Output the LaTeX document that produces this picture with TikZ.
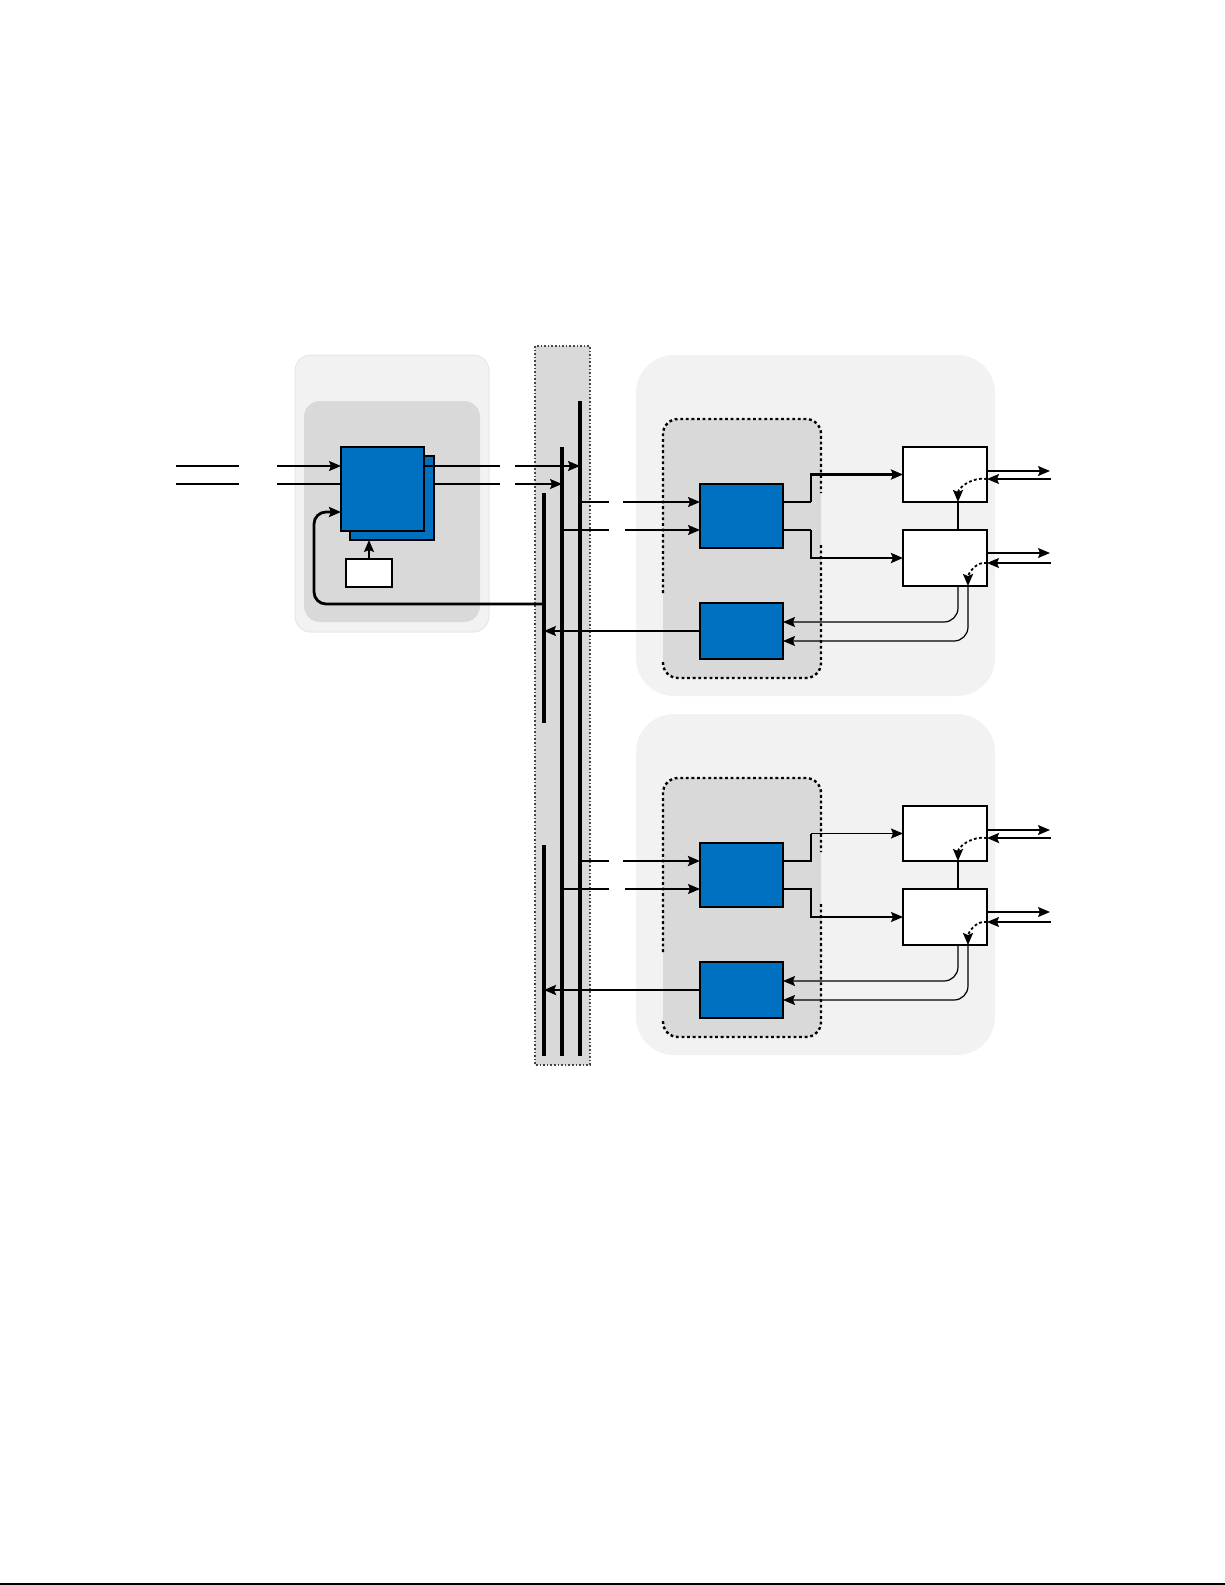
\documentclass[tikz,border=0pt]{standalone}
\usetikzlibrary{fit,arrows.meta}
\definecolor{blu}{HTML}{0070C0}
\definecolor{lg}{HTML}{F2F2F2}
\definecolor{mg}{HTML}{D9D9D9}
\definecolor{edgeb}{HTML}{E2E6F2}
\tikzset{
 blk/.style={draw=black, fill=blu, line width=0.6pt, inner sep=0pt, outer sep=0pt},
 wbox/.style={draw=black, fill=white, line width=0.6pt, inner sep=0pt, outer sep=0pt},
 thin1/.style={line width=0.6pt},
 thk/.style={line width=1.4pt},
 busl/.style={line width=1.6pt},
 arr/.style={-{Stealth[length=6pt,width=5pt,inset=1pt]}},
 dots/.style={line width=1.2pt, dash pattern=on 1.4pt off 1.4pt},
 dotarr/.style={line width=0.9pt, dash pattern=on 1.4pt off 1.2pt, -{Stealth[length=6pt,width=5pt,inset=1pt]}},
}
\begin{document}
\begin{tikzpicture}[x=0.5pt,y=-0.5pt]
\useasboundingbox (0,0) rectangle (1225,1585);
\fill[white] (0,0) rectangle (1225,1585);

% ---- background areas
\filldraw[fill=lg, draw=edgeb, line width=0.5pt, rounded corners=8pt] (295,355) rectangle (489,632);
\fill[mg, rounded corners=8pt] (304,401) rectangle (480,622);
\filldraw[fill=mg, draw=gray!55!black, line width=0.8pt, densely dotted] (535,346) rectangle (590,1065);
\fill[lg, rounded corners=19pt] (636,355) rectangle (995,696);
\fill[lg, rounded corners=19pt] (636,714) rectangle (995,1055);
\fill[mg, rounded corners=7.5pt] (663,419) rectangle (821,678);
\draw[dots, rounded corners=7.5pt] (663,593) -- (663,419) -- (821,419) -- (821,493);
\draw[dots, rounded corners=7.5pt] (821,545) -- (821,678) -- (663,678) -- (663,662);
\fill[mg, rounded corners=7.5pt] (663,778) rectangle (821,1037);
\draw[dots, rounded corners=7.5pt] (663,952) -- (663,778) -- (821,778) -- (821,852);
\draw[dots, rounded corners=7.5pt] (821,904) -- (821,1037) -- (663,1037) -- (663,1021);

% ---- bus lines
\coordinate (b1t) at (544,493); \coordinate (b1m) at (544,723);
\coordinate (b1n) at (544,845); \coordinate (b1b) at (544,1056);
\coordinate (b2t) at (562,447); \coordinate (b2b) at (562,1056);
\coordinate (b3t) at (580,401); \coordinate (b3b) at (580,1056);
\draw[busl] (b1t) -- (b1m);
\draw[busl] (b1n) -- (b1b);
\draw[busl] (b2t) -- (b2b);
\draw[busl] (b3t) -- (b3b);

% ---- left group
\node[blk, fit={(350,456) (434,540)}] (Mback) {};
\node[blk, fit={(341,447) (424,531)}] (Mfront) {};
\node[wbox, fit={(346,559) (392,587)}] (Small) {};

\coordinate (i1a) at (176,466); \coordinate (i1b) at (239,466); \coordinate (i1c) at (277,466);
\draw[thin1] (i1a) -- (i1b);
\draw[thin1, arr] (i1c) -- (i1c -| Mfront.west);
\coordinate (i2a) at (176,484); \coordinate (i2b) at (239,484); \coordinate (i2c) at (277,484);
\draw[thin1] (i2a) -- (i2b);
\draw[thin1] (i2c) -- (i2c -| Mfront.west);

\coordinate (o1a) at (500,466); \coordinate (o1b) at (515,466);
\draw[thin1] (o1a -| Mfront.east) -- (o1a);
\draw[thin1, arr] (o1b) -- (o1b -| b3t);
\coordinate (o2a) at (500,484); \coordinate (o2b) at (515,484);
\draw[thin1] (o2a -| Mback.east) -- (o2a);
\draw[thin1, arr] (o2b) -- (o2b -| b2t);

\coordinate (fb) at (314,604); \coordinate (fbtop) at (314,512);
\draw[thk, arr, rounded corners=6pt] (fb -| b1t) -- (fb) -- (fbtop) -- (fbtop -| Mfront.west);
\draw[thin1, arr] (Small.north) -- (Small.north |- Mback.south);

% ---- top module
\node[blk, fit={(700,484) (783,548)}] (A1) {};
\node[blk, fit={(700,603) (783,659)}] (B1) {};
\node[wbox, fit={(903,447) (987,502)}] (W11) {};
\node[wbox, fit={(903,530) (987,586)}] (W12) {};
\coordinate (vx) at (958,0);

\coordinate (p1a) at (609,502); \coordinate (p1b) at (623,502);
\draw[thin1] (p1a -| b3t) -- (p1a);
\draw[thin1, arr] (p1b) -- (p1b -| A1.west);
\coordinate (p2a) at (609,530); \coordinate (p2b) at (625,530);
\draw[thin1] (p2a -| b2t) -- (p2a);
\draw[thin1, arr] (p2b) -- (p2b -| A1.west);

\coordinate (q1) at (811,502); \coordinate (q2) at (811,530);
\draw[thin1] (q1 -| A1.east) -- (q1);
\draw[thk, arr] (q1) |- (W11.west);
\draw[thin1] (q2 -| A1.east) -- (q2);
\draw[thk, arr] (q2) |- (W12.west);

\draw[thin1] (W12.north -| vx) -- (W11.south -| vx);
\coordinate (r1) at (958,622); \coordinate (r2) at (968,641);
\draw[thin1, arr, rounded corners=7pt] (W12.south -| r1) -- (r1) -- (r1 -| B1.east);
\draw[thin1, arr, rounded corners=7pt] (W12.south -| r2) -- (r2) -- (r2 -| B1.east);
\draw[thin1, arr] (B1.west) -- (B1.west -| b1t);

\coordinate (e1) at (1050,471); \coordinate (e2) at (1051,479);
\coordinate (e3) at (1050,553); \coordinate (e4) at (1051,563);
\draw[thin1, arr] (e1 -| W11.east) -- (e1);
\draw[thin1, arr] (e2) -- (e2 -| W11.east);
\draw[dotarr] (e2 -| W11.east) to[out=170,in=90] (W11.south -| vx);
\draw[thin1, arr] (e3 -| W12.east) -- (e3);
\draw[thin1, arr] (e4) -- (e4 -| W12.east);
\draw[dotarr] (e4 -| W12.east) to[out=170,in=90] (W12.south -| r2);

% ---- bottom module
\node[blk, fit={(700,843) (783,907)}] (A2) {};
\node[blk, fit={(700,962) (783,1018)}] (B2) {};
\node[wbox, fit={(903,806) (987,861)}] (W21) {};
\node[wbox, fit={(903,889) (987,945)}] (W22) {};

\coordinate (p3a) at (609,861); \coordinate (p3b) at (623,861);
\draw[thk] (p3a -| b3t) -- (p3a);
\draw[thk, arr] (p3b) -- (p3b -| A2.west);
\coordinate (p4a) at (609,889); \coordinate (p4b) at (625,889);
\draw[thin1] (p4a -| b2t) -- (p4a);
\draw[thin1, arr] (p4b) -- (p4b -| A2.west);

\coordinate (s1) at (811,861); \coordinate (s2) at (811,889);
\draw[thk] (s1 -| A2.east) -- (s1) -- (s1 |- W21.west);
\draw[thin1, arr] (s1 |- W21.west) -- (W21.west);
\draw[thin1, arr] (s2 -| A2.east) -- (s2) |- (W22.west);

\draw[thin1] (W22.north -| vx) -- (W21.south -| vx);
\coordinate (r3) at (958,981); \coordinate (r4) at (968,1000);
\draw[thin1, arr, rounded corners=7pt] (W22.south -| r3) -- (r3) -- (r3 -| B2.east);
\draw[thin1, arr, rounded corners=7pt] (W22.south -| r4) -- (r4) -- (r4 -| B2.east);
\draw[thk, arr] (B2.west) -- (B2.west -| b1t);

\coordinate (e5) at (1050,830); \coordinate (e6) at (1051,838);
\coordinate (e7) at (1050,912); \coordinate (e8) at (1051,922);
\draw[thin1, arr] (e5 -| W21.east) -- (e5);
\draw[thk, arr] (e6) -- (e6 -| W21.east);
\draw[dotarr] (e6 -| W21.east) to[out=170,in=90] (W21.south -| vx);
\draw[thin1, arr] (e7 -| W22.east) -- (e7);
\draw[thin1, arr] (e8) -- (e8 -| W22.east);
\draw[dotarr] (e8 -| W22.east) to[out=170,in=90] (W22.south -| r4);

% ---- page foot line
\coordinate (fl) at (0,1584); \coordinate (fr) at (1225,1584);
\draw[line width=0.7pt] (fl) -- (fr);
\end{tikzpicture}
\end{document}
